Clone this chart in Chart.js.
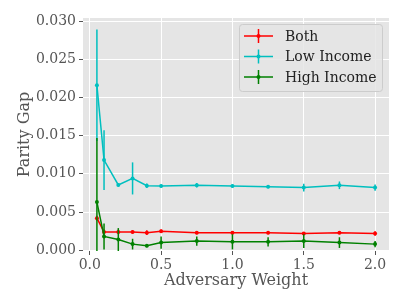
<!DOCTYPE html>
<html>
<head>
<meta charset="utf-8">
<script src="https://cdn.jsdelivr.net/npm/chart.js"></script>
<style>
  html, body { margin: 0; padding: 0; background: #fff; }
  #wrap { width: 407px; height: 305px; }
</style>
</head>
<body>
<div id="wrap"><canvas id="chart" width="407" height="305"></canvas></div>
<script>
// adversary weights on the x axis
const weights = [0.05, 0.1, 0.2, 0.3, 0.4, 0.5, 0.75, 1.0, 1.25, 1.5, 1.75, 2.0];

// parity gap, mean and error per series
const bothGap  = [0.0042, 0.0024, 0.0024, 0.0024, 0.0023, 0.0025, 0.0023, 0.0023, 0.0023, 0.0022, 0.0023, 0.0022];
const bothErr  = [0.0003, 0.0003, 0.0003, 0.0002, 0.0003, 0.0002, 0.0002, 0.0002, 0.0002, 0.0002, 0.0002, 0.0003];
const lowGap   = [0.0216, 0.0118, 0.00855, 0.0094, 0.00845, 0.0084, 0.0085, 0.0084, 0.0083, 0.0082, 0.0085, 0.0082];
const lowErr   = [0.0073, 0.0039, 0.0002, 0.0021, 0.0003, 0.0002, 0.0003, 0.0002, 0.0002, 0.0005, 0.0005, 0.0004];
const highGap  = [0.0063, 0.0018, 0.0014, 0.0008, 0.0006, 0.0010, 0.0012, 0.0011, 0.0011, 0.0012, 0.0010, 0.0008];
const highErr  = [0.0084, 0.0017, 0.0015, 0.0007, 0.0002, 0.0008, 0.0006, 0.0010, 0.0006, 0.0009, 0.0007, 0.0004];

const xTicks = [0, 0.5, 1.0, 1.5, 2.0];
const yTicks = [0, 0.005, 0.010, 0.015, 0.020, 0.025, 0.030];

const seriesNames = ['Both', 'Low Income', 'High Income'];
const colors = ['#ff0000', '#00bfbf', '#008000'];

const font = 'DejaVu Serif';

function toPoints(ys, errs) {
  return weights.map((x, i) => ({ x: x, y: ys[i], err: errs[i] }));
}

// gray plot background like the ggplot style
const plotBg = {
  id: 'plotBg',
  beforeDraw(chart) {
    const { ctx, chartArea: a } = chart;
    ctx.save();
    ctx.fillStyle = '#e5e5e5';
    ctx.fillRect(a.left, a.top, a.right - a.left, a.bottom - a.top);
    ctx.restore();
  }
};

// vertical error bars, drawn with each dataset
const errorBars = {
  id: 'errorBars',
  afterDatasetDraw(chart, args) {
    const ds = chart.data.datasets[args.index];
    const xs = chart.scales.x, ys = chart.scales.y;
    const ctx = chart.ctx;
    const a = chart.chartArea;
    ctx.save();
    ctx.beginPath();
    ctx.rect(a.left, a.top, a.right - a.left, a.bottom - a.top);
    ctx.clip();
    ctx.strokeStyle = ds.borderColor;
    ctx.lineWidth = 1.5;
    ds.data.forEach(p => {
      const px = xs.getPixelForValue(p.x);
      ctx.beginPath();
      ctx.moveTo(px, ys.getPixelForValue(p.y - p.err));
      ctx.lineTo(px, ys.getPixelForValue(p.y + p.err));
      ctx.stroke();
    });
    ctx.restore();
  }
};

// legend box in the upper right, matplotlib style
const legendBox = {
  id: 'legendBox',
  afterDraw(chart) {
    const ctx = chart.ctx;
    const bx = 239, by = 24, bw = 143, bh = 67;
    ctx.save();
    ctx.fillStyle = 'rgba(229,229,229,0.85)';
    ctx.strokeStyle = '#cccccc';
    ctx.lineWidth = 1;
    ctx.beginPath();
    ctx.roundRect(bx + 0.5, by + 0.5, bw, bh, 3);
    ctx.fill();
    ctx.stroke();
    ctx.font = '14px "' + font + '"';
    ctx.textBaseline = 'middle';
    ctx.textAlign = 'left';
    seriesNames.forEach((name, i) => {
      const y = by + 12 + i * 20.5;
      ctx.strokeStyle = colors[i];
      ctx.lineWidth = 1.5;
      ctx.beginPath();
      ctx.moveTo(244, y); ctx.lineTo(273, y);
      ctx.moveTo(258.5, y - 7); ctx.lineTo(258.5, y + 7);
      ctx.stroke();
      ctx.fillStyle = colors[i];
      ctx.beginPath();
      ctx.arc(258.5, y, 2, 0, Math.PI * 2);
      ctx.fill();
      ctx.fillStyle = '#222';
      ctx.fillText(name, 285, y + 1);
    });
    ctx.restore();
  }
};

const datasets = [
  { label: seriesNames[0], data: toPoints(bothGap, bothErr), order: 3 },
  { label: seriesNames[1], data: toPoints(lowGap, lowErr), order: 2 },
  { label: seriesNames[2], data: toPoints(highGap, highErr), order: 1 }
].map((d, i) => Object.assign(d, {
  borderColor: colors[i],
  backgroundColor: colors[i],
  borderWidth: 1.5,
  pointRadius: 2,
  pointBorderWidth: 0,
  pointBackgroundColor: colors[i],
  showLine: true,
  tension: 0
}));

new Chart(document.getElementById('chart').getContext('2d'), {
  type: 'scatter',
  data: { datasets: datasets },
  options: {
    responsive: false,
    animation: false,
    layout: { padding: { left: 0, right: 18, top: 18, bottom: 0 } },
    plugins: {
      legend: { display: false },
      tooltip: { enabled: false }
    },
    scales: {
      x: {
        type: 'linear',
        min: -0.0475,
        max: 2.0975,
        afterBuildTicks: axis => { axis.ticks = xTicks.map(v => ({ value: v })); },
        afterFit: axis => { axis.height = 54; },
        ticks: {
          color: '#555',
          font: { family: font, size: 14 },
          padding: 2,
          maxRotation: 0,
          callback: v => v.toFixed(1)
        },
        grid: { color: '#ffffff', lineWidth: 1, tickLength: 4, tickColor: '#555', tickWidth: 1 },
        border: { display: false },
        title: {
          display: true,
          text: 'Adversary Weight',
          color: '#555',
          font: { family: font, size: 16 },
          padding: { top: 0, bottom: 15 }
        }
      },
      y: {
        type: 'linear',
        min: -0.0001,
        max: 0.0304,
        afterBuildTicks: axis => { axis.ticks = yTicks.map(v => ({ value: v })); },
        afterFit: axis => { axis.width = 83; },
        ticks: {
          color: '#555',
          font: { family: font, size: 14 },
          padding: 3,
          callback: v => v.toFixed(3)
        },
        grid: { color: '#ffffff', lineWidth: 1, tickLength: 4, tickColor: '#555', tickWidth: 1 },
        border: { display: false },
        title: {
          display: true,
          text: 'Parity Gap',
          color: '#555',
          font: { family: font, size: 16 },
          padding: { top: 15, bottom: 0 }
        }
      }
    }
  },
  plugins: [plotBg, errorBars, legendBox]
});
</script>
</body>
</html>
